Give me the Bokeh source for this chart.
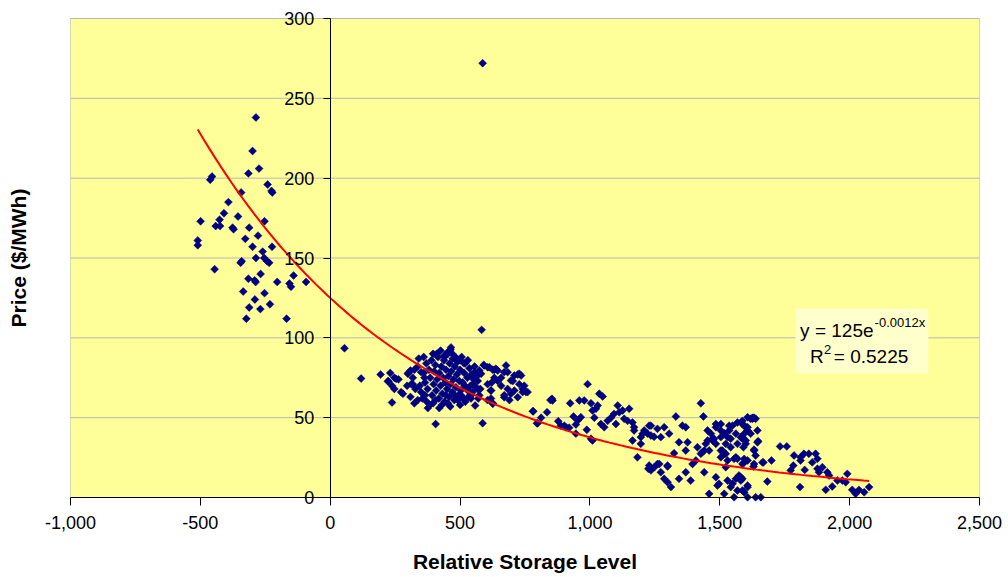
import numpy as np
from bokeh.plotting import figure
from bokeh.models import Range1d, NumeralTickFormatter, FixedTicker, Label, BoxAnnotation, ColumnDataSource
from bokeh.embed import file_html
from bokeh.resources import INLINE

# ---- data ----
left_x = [-286, -299, -274, -315, -455, -462, -241, -226, -223, -343, -392, -409, -355, -499, -426, -253,
          -441, -424, -376, -372, -312, -278, -327, -510, -510, -299, -224, -260, -286, -254, -243, -235,
          -341, -345, -445, -268, -141, -315, -291, -287, -204, -93, -157, -151, -335, -253, -290, -232,
          -312, -269, -323, -168]
left_y = [238, 217, 206, 203, 201, 199, 196, 192, 191, 191, 185, 178, 176, 173, 174, 173,
          170, 170, 169, 168, 169, 164, 162, 161, 158, 157, 157, 154, 150, 150, 148, 147,
          148, 147, 143, 140, 139, 137, 136, 135, 135, 135, 134, 132, 129, 128, 124, 121,
          119, 118, 112, 112]

mid_x = [587, 583, 55, 119, 194, 231, 222, 238, 247, 263, 238, 273, 280, 296, 301, 309, 318, 312, 328,
         309, 324, 337, 341, 360, 396, 337, 350, 363, 376, 406, 453, 465, 463, 440, 453, 485, 591, 606,
         626, 638, 574, 568, 578, 619, 622, 542, 558, 606, 626, 491, 504, 530, 517, 587, 224, 254, 247,
         299, 324, 318,
         360, 365, 370, 375, 380, 385, 390, 392, 398, 400, 405, 408, 412, 415, 418, 420, 425, 428, 432,
         435, 438, 440, 443, 446, 450, 452, 455, 458, 460, 463, 466, 470, 472, 475, 478, 480, 484, 488,
         490, 494, 497, 500, 503, 506, 510, 513, 516, 520, 524, 528, 532, 536, 540, 544, 548, 552, 556,
         560, 565, 570, 345, 350, 355, 365, 372, 384, 396, 405, 420, 430, 445, 462, 480, 500, 520,
         410, 425, 440, 470, 480, 500, 515, 530]
mid_y = [272, 105, 93.5, 74.5, 77, 78, 72.8, 70, 75, 74, 59.5, 66, 65, 70, 78, 79.5, 75, 71, 68,
         63, 59, 61, 87, 88, 90, 82, 78.5, 75, 56, 46, 59, 94, 92.5, 89, 90, 87.5, 83, 81.6,
         80, 80.6, 79.5, 73, 68, 67, 72, 62, 57.6, 61, 59, 61, 64, 67, 70, 46.5, 72.8, 74.3, 68,
         77.5, 80, 71,
         78, 72, 84, 68, 80, 75, 86, 64, 71, 79, 83, 67, 74, 88, 62, 78, 70, 82, 65,
         75, 86, 60, 72, 80, 68, 91, 76, 63, 84, 71, 79, 66, 87, 74, 61, 82, 69, 77,
         85, 64, 73, 80, 67, 88, 72, 62, 78, 84, 69, 75, 63, 81, 70, 77, 66, 74, 82,
         69, 76, 62, 70, 66, 62, 64, 60, 58, 59, 61, 56, 58, 64, 57, 64, 58, 60,
         90, 92, 88, 90, 87, 86, 84, 86]

right_x = [593, 613, 632, 645, 677, 670, 722, 735, 606, 619, 645, 658, 683, 696, 709, 728, 741, 754,
           670, 690, 703, 632, 658, 619, 626, 854, 856, 780, 835, 796, 812, 878, 901, 920, 924, 959,
           978, 991, 1004, 1010, 1036, 1049, 1023, 1030, 937, 953, 965, 946, 988, 1017, 1042, 1055,
           1068, 1081, 1107, 1113, 1126, 1132, 1151, 1145, 1164, 1170, 1093, 1100, 1170, 1209, 1222,
           1235, 1260, 1247, 1196, 683, 709, 728, 760, 696, 722, 670, 574, 542, 568, 549, 581, 555,
           799, 848, 747, 741, 782]
right_y = [82.7, 81.6, 80, 79.5, 82.7, 78.5, 77, 76.4, 71, 67, 73, 70, 68, 65, 67, 71, 68, 66,
           64, 61, 73, 75, 75, 62, 58.7, 61.8, 60.8, 54, 53.4, 46.5, 50, 47.8, 45, 43.7, 59, 60.8,
           60.8, 71, 59, 54.5, 65, 63.3, 55.6, 57.6, 50.7, 48.2, 50.3, 45.7, 42.4, 50, 46, 44,
           48, 50, 57.6, 53.4, 54.5, 49.3, 55.6, 48, 47, 44, 52.4, 46, 42, 42, 40,
           45, 43, 38, 37.8, 78.5, 76.4, 77.5, 66, 73.3, 62.8, 62.8, 64, 64, 68, 71, 77.5, 78.5,
           46.5, 61, 70, 66, 54]

low_x = [888, 908, 946, 1004, 1010, 1183, 1228, 1286, 1305, 1273, 1235, 1203, 1196, 1164, 1331, 1356,
         1369, 1343, 1376, 1369, 1427, 1437, 1324, 1414, 1427, 1440, 1453, 1466, 1228, 1260, 1235,
         1273, 1299, 1286, 1299, 1312, 1343, 1369, 1388, 1395, 1408, 1440, 1485, 1504, 1517, 1530,
         1536, 1549, 1568, 1587, 1607, 1626, 1472, 1485, 1504, 1517, 1542, 1568, 1581, 1600, 1619,
         1562, 1594, 1632, 1632, 1523, 1485, 1497, 1530, 1542, 1562, 1581, 1568, 1594, 1607, 1517,
         1459, 1555, 1607, 1225, 1248, 1267, 1299,
         1626, 1638, 1594, 1607, 1536, 1504, 1485, 1453, 1645, 1562, 1587, 1542, 1517, 1523, 1504,
         1478, 1472, 1446, 1433, 1459, 1645, 1638, 1607, 1594, 1568, 1555, 1523, 1510, 1504, 1530,
         1664, 1699, 1732, 1758, 1786, 1811, 1843, 1869, 1876, 1856, 1811, 1824, 1773, 1783, 1827,
         1876, 1895, 1882, 1914, 1921, 1991, 1953, 1972, 1985, 2010, 2036, 2056, 2075, 2023, 1908,
         1933, 1809, 1683, 1491, 1549, 1574, 1587, 1607, 1638, 1658,
         1619, 1632, 1587, 1600, 1607, 1594, 1587, 1600, 1591, 1648, 1632, 1587, 1630, 1581, 1587,
         1668]
low_y = [45, 44, 40, 36.8, 35.7, 25.2, 45, 44, 40, 37.8, 38.8, 40, 33.6, 35.7, 50.7, 45,
         44, 34.6, 34.6, 29.4, 59, 50.7, 27.7, 31.5, 27.4, 29.4, 35.7, 40, 20, 21, 17,
         15.8, 20, 11.7, 9.6, 6.5, 11.7, 15.8, 10.6, 21, 23.2, 15.8, 46, 42, 40, 37.8,
         42, 45, 47, 48, 50.3, 49.3, 36.8, 33.6, 29.4, 27.4, 31.5, 33.6, 37.8, 35.7, 40,
         25.2, 24.2, 29.4, 21, 19, 12.7, 8.6, 10.6, 6.5, 11.7, 10.6, 4.4, 3.3, 6.5, 2.3,
         2.3, 0.2, 0.2, 18, 19, 21, 19.4,
         49.9, 49.3, 45, 44, 45, 46, 44, 42, 42, 40, 37.8, 36.8, 40, 33.6, 37.8,
         36.8, 35.7, 33.6, 28.4, 29.4, 34.6, 26.3, 23.2, 22, 24.2, 24.2, 27.4, 29.4, 25.2, 23.2,
         22, 23.2, 32, 32, 26.3, 25.2, 27.4, 27.4, 24.2, 22, 23.2, 27.4, 17, 20, 17.3,
         18, 19, 15.8, 15.8, 13.8, 14.8, 10.6, 10.6, 9.6, 4.8, 4.8, 3.3, 6.5, 2.3, 4.8,
         6.9, 6.5, 10, 7.5, 8.6, 13.8, 11.7, 7.5, 0.2, 0.2,
         49.3, 50, 46, 44, 42, 40, 36.8, 33.6, 31.5, 35.3, 30, 21, 19.4, 12.7, 4.4,
         22]

storage = left_x + mid_x + right_x + low_x
price = left_y + mid_y + right_y + low_y

# fitted trend shown in the chart: y = 125 e^(-0.0012 x), R^2 = 0.5225
trend_a = 125.0
trend_b = -0.0012
x_ticks = [-1000, -500, 0, 500, 1000, 1500, 2000, 2500]
y_ticks = [0, 50, 100, 150, 200, 250, 300]
x_lo, x_hi = -1000, 2500
y_lo, y_hi = 0, 300

FONT = "Liberation Sans"

# the frame is larger than the plotting area so that the axes drawn at x=0 / y=0
# (which are clipped to the frame) keep all their labels visible
p = figure(frame_width=996, frame_height=573, output_backend="svg", toolbar_location=None,
           x_range=Range1d(-1238.72, 2596.27), y_range=Range1d(-48.85, 310.02),
           min_border_left=8, min_border_right=2, min_border_top=2, min_border_bottom=1,
           background_fill_color="white", border_fill_color="white")
p.outline_line_color = None
p.xgrid.visible = False
p.ygrid.visible = False

# plotting area
p.add_layout(BoxAnnotation(left=x_lo, right=x_hi, bottom=y_lo, top=y_hi, fill_color="#FFFF99",
                           fill_alpha=1.0, line_color="#808080", line_width=1, level="underlay"))
# horizontal gridlines
p.segment(x0=[x_lo] * len(y_ticks), x1=[x_hi] * len(y_ticks), y0=y_ticks, y1=y_ticks,
          line_color="#B8B8B8", line_width=1)

xa = p.xaxis[0]
xa.fixed_location = 0
xa.bounds = (x_lo, x_hi)
xa.ticker = FixedTicker(ticks=x_ticks)
xa.formatter = NumeralTickFormatter(format="0,0")
xa.major_tick_out = 8
xa.major_tick_in = 0
xa.minor_tick_line_color = None
xa.axis_line_color = "black"
xa.major_tick_line_color = "black"
xa.major_label_text_font = FONT
xa.major_label_text_font_size = "18px"
xa.major_label_text_color = "black"
xa.major_label_standoff = 10
xa.axis_label = "Relative Storage Level"
xa.axis_label_text_font = FONT
xa.axis_label_text_font_size = "21px"
xa.axis_label_text_font_style = "bold"
xa.axis_label_text_color = "black"
xa.axis_label_standoff = 18

ya = p.yaxis[0]
ya.fixed_location = 0
ya.bounds = (y_lo, y_hi)
ya.ticker = FixedTicker(ticks=y_ticks)
ya.major_tick_out = 7
ya.major_tick_in = 0
ya.minor_tick_line_color = None
ya.axis_line_color = "black"
ya.major_tick_line_color = "black"
ya.major_label_text_font = FONT
ya.major_label_text_font_size = "18px"
ya.major_label_text_color = "black"
ya.major_label_standoff = 9

p.add_layout(Label(x=-1200, y=150, text="Price ($/MWh)", angle=np.pi / 2, text_align="center",
                   text_baseline="middle", text_font=FONT, text_font_size="21px",
                   text_font_style="bold", text_color="black"))

src = ColumnDataSource(dict(x=storage, y=price))
p.scatter("x", "y", source=src, marker="square", size=5.6, angle=np.pi / 4,
          fill_color="#000080", line_color="#000080", line_width=0.5)

tx = np.linspace(min(storage), max(storage), 120)
ty = trend_a * np.exp(trend_b * tx)
p.line(tx, ty, line_color="#FF0000", line_width=2)

# equation box
p.add_layout(BoxAnnotation(left=1792, right=2303, bottom=77.7, top=118.4,
                           fill_color="#FFFFCC", fill_alpha=1.0, line_color=None, level="annotation"))
p.add_layout(Label(x=2092, y=104.5, text="y = 125e", text_align="right", text_baseline="middle",
                   text_font=FONT, text_font_size="19px", text_color="black"))
p.add_layout(Label(x=2096, y=109.5, text="-0.0012x", text_align="left", text_baseline="middle",
                   text_font=FONT, text_font_size="13px", text_color="black"))
p.add_layout(Label(x=1900, y=88, text="R", text_align="right", text_baseline="middle",
                   text_font=FONT, text_font_size="19px", text_color="black"))
p.add_layout(Label(x=1901, y=92.5, text="2", text_align="left", text_baseline="middle",
                   text_font=FONT, text_font_size="13px", text_color="black"))
p.add_layout(Label(x=1939, y=88, text="= 0.5225", text_align="left", text_baseline="middle",
                   text_font=FONT, text_font_size="19px", text_color="black"))

open("out.html", "w").write(file_html(p, INLINE))
